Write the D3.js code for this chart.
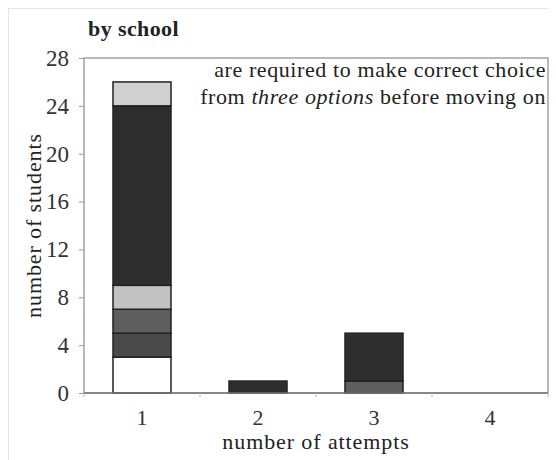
<!DOCTYPE html>
<html lang="en">
<head>
    <meta charset="UTF-8">
    <title>by school</title>
    <script src="https://d3js.org/d3.v7.min.js"></script>
    <style>
        body { margin: 0; background: #fff; }
    </style>
</head>
<body>
<script>
// categories on the x axis
const attempts = ["1", "2", "3", "4"];
// one series per school, stacked bottom to top
const schools = ["school A", "school B", "school C", "school D", "school E", "school F"];
const schoolA = [3, 0, 0, 0];
const schoolB = [2, 0, 0, 0];
const schoolC = [2, 0, 1, 0];
const schoolD = [2, 0, 0, 0];
const schoolE = [15, 1, 4, 0];
const schoolF = [2, 0, 0, 0];
const yTicks = [0, 4, 8, 12, 16, 20, 24, 28];
const schoolColors = ["#ffffff", "#4a4a4a", "#5e5e5e", "#c2c2c2", "#2e2e2e", "#d0d0d0"];

const seriesValues = [schoolA, schoolB, schoolC, schoolD, schoolE, schoolF];
const rows = attempts.map((a, i) => {
    const r = {attempt: a};
    schools.forEach((s, j) => r[s] = seriesValues[j][i]);
    return r;
});

const FONT = "'Liberation Serif', 'DejaVu Serif', serif";
const width = 556, height = 460;
const margin = {top: 58, right: 8, bottom: 67, left: 84};

const svg = d3.select("body").append("svg")
    .attr("width", width)
    .attr("height", height)
    .style("font-family", FONT);

// faint page frame
svg.append("line").attr("x1", 8).attr("x2", 548).attr("y1", 8.5).attr("y2", 8.5)
    .attr("stroke", "#e4e4e4");
svg.append("line").attr("x1", 8.5).attr("x2", 8.5).attr("y1", 8).attr("y2", 460)
    .attr("stroke", "#e4e4e4");

const x = d3.scaleBand()
    .domain(attempts)
    .range([margin.left, width - margin.right])
    .paddingInner(0.5)
    .paddingOuter(0.25);

const y = d3.scaleLinear()
    .domain([0, 28])
    .range([height - margin.bottom, margin.top]);

const stacked = d3.stack().keys(schools)(rows);

// plot frame
svg.append("rect")
    .attr("x", margin.left)
    .attr("y", margin.top)
    .attr("width", width - margin.left - margin.right)
    .attr("height", height - margin.top - margin.bottom)
    .attr("fill", "none")
    .attr("stroke", "#8a8a8a")
    .attr("stroke-width", 1.2);

// bars
svg.selectAll("g.layer")
    .data(stacked)
    .enter().append("g")
    .attr("class", "layer")
    .attr("fill", (d, i) => schoolColors[i])
    .selectAll("rect")
    .data(d => d.filter(p => p[1] - p[0] > 0))
    .enter().append("rect")
    .attr("x", d => x(d.data.attempt))
    .attr("y", d => y(d[1]))
    .attr("width", x.bandwidth())
    .attr("height", d => y(d[0]) - y(d[1]))
    .attr("stroke", "#222")
    .attr("stroke-width", 1.5);

// y axis
const yAxis = svg.append("g")
    .attr("transform", `translate(${margin.left},0)`)
    .call(d3.axisLeft(y).tickValues(yTicks).tickSize(5).tickPadding(10));
yAxis.attr("font-family", null).attr("font-size", null);
yAxis.select(".domain").remove();
yAxis.selectAll("line").attr("stroke", "#999");
yAxis.selectAll("text")
    .style("font-family", FONT)
    .style("font-size", "23px")
    .attr("fill", "#333");

// x axis: small ticks on category boundaries, labels at centres
const xAxis = svg.append("g")
    .attr("transform", `translate(0,${height - margin.bottom})`);
xAxis.append("line")
    .attr("x1", margin.left).attr("x2", width - margin.right)
    .attr("stroke", "#777").attr("stroke-width", 1.5);
xAxis.selectAll("line.tick")
    .data(d3.range(attempts.length + 1))
    .enter().append("line")
    .attr("class", "tick")
    .attr("x1", i => margin.left + i * x.step())
    .attr("x2", i => margin.left + i * x.step())
    .attr("y1", 0).attr("y2", 4)
    .attr("stroke", "#bbb");
xAxis.selectAll("text")
    .data(attempts)
    .enter().append("text")
    .attr("x", d => x(d) + x.bandwidth() / 2)
    .attr("y", 32)
    .attr("text-anchor", "middle")
    .style("font-size", "22px")
    .attr("fill", "#333")
    .text(d => d);

// axis titles
svg.append("text")
    .attr("x", (margin.left + width - margin.right) / 2)
    .attr("y", 449)
    .attr("text-anchor", "middle")
    .style("font-size", "22px")
    .style("letter-spacing", "0.9px")
    .attr("fill", "#222")
    .text("number of attempts");

svg.append("text")
    .attr("transform", `translate(41,${(margin.top + height - margin.bottom) / 2}) rotate(-90)`)
    .attr("text-anchor", "middle")
    .style("font-size", "22px")
    .style("letter-spacing", "0.9px")
    .attr("fill", "#222")
    .text("number of students");

svg.append("text")
    .attr("x", 88)
    .attr("y", 36)
    .style("font-size", "22px")
    .style("letter-spacing", "0.4px")
    .style("font-weight", "bold")
    .attr("fill", "#222")
    .text("by school");

// note in the top right corner
const note = svg.append("text")
    .attr("text-anchor", "end")
    .attr("fill", "#222")
    .style("font-size", "22px")
    .style("letter-spacing", "0.6px");
note.append("tspan")
    .attr("x", 546).attr("y", 77)
    .text("are required to make correct choice");
const line2 = note.append("tspan").attr("x", 546).attr("y", 104);
line2.append("tspan").text("from ");
line2.append("tspan").style("font-style", "italic").text("three options");
line2.append("tspan").text(" before moving on");
</script>
</body>
</html>
